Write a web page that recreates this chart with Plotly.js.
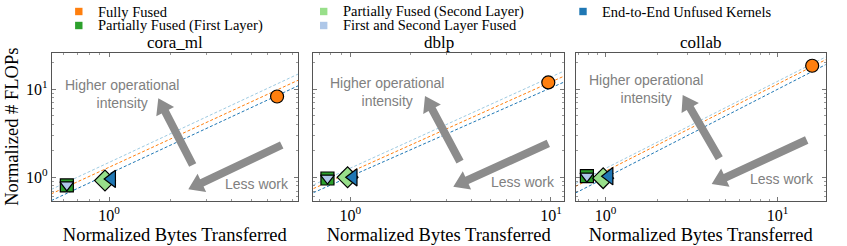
<!DOCTYPE html>
<html><head><meta charset="utf-8">
<script src="https://cdn.plot.ly/plotly-3.0.1.min.js"></script>
<style>html,body{margin:0;padding:0;background:#fff}#chart{width:847px;height:246px}</style>
</head><body><div id="chart"></div>
<script>
// ---------- data ----------
const datasets = ['cora_ml', 'dblp', 'collab'];
const seriesNames = ['Fully Fused', 'Partially Fused (First Layer)', 'Partially Fused (Second Layer)',
                     'First and Second Layer Fused', 'End-to-End Unfused Kernels'];
const fullyFusedX = [6.7, 9.7, 15.9];
const fullyFusedY = [8.25, 11.9, 18.4];
const partialFirstX = [0.62, 0.77, 0.78];
const partialFirstY = [0.81, 0.97, 1.03];
const partialSecondX = [0.955, 0.97, 0.97];
const partialSecondY = [0.92, 1.0, 0.98];
const bothFusedX = [0.62, 0.77, 0.78];
const bothFusedY = [0.82, 0.98, 1.03];
const unfusedX = [1.03, 1.035, 1.05];
const unfusedY = [0.96, 1.0, 1.03];
// reference (constant-intensity) lines: endpoints per dataset
const refLineXStart = [0.52, 0.655, 0.67];
const refLineXEnd = [8.5, 11.6, 19.1];
const lightLineYStart = [0.73, 0.82, 0.85];
const lightLineYEnd = [14.8, 16.0, 23.2];
const orangeLineYStart = [0.65, 0.745, 0.79];
const orangeLineYEnd = [12.6, 14.0, 21.6];
const blueLineYStart = [0.545, 0.67, 0.665];
const blueLineYEnd = [10.9, 12.0, 19.0];
const xTickVals = [1, 10];
const xTickText = ['10<sup>0</sup>', '10<sup>1</sup>'];
const yTickVals = [1, 10];
const yTickText = ['10<sup>0</sup>', '10<sup>1</sup>'];

// ---------- style ----------
const W = 847, H = 246;
const C = {orange: '#ff7f0e', green: '#2ca02c', lgreen: '#98df8a', lblue: '#aec7e8', blue: '#1f77b4'};
const seriesColors = [C.orange, C.green, C.lgreen, C.lblue, C.blue];
const serif = '"Liberation Serif", "Times New Roman", serif';
const sans = '"Liberation Sans", Arial, sans-serif';
const xDomainsPx = [[51.7, 298], [313.3, 564], [575.7, 825.7]];
const xRangesLog = [[-0.282, 0.929], [-0.184, 1.065], [-0.173, 1.28]];
const yRangeLog = [-0.268, 1.415];
const yDomain = [1 - 201 / H, 1 - 52.5 / H];
const px = x => x / W, py = y => 1 - y / H;

const minorVals = [0.5,0.6,0.7,0.8,0.9,2,3,4,5,6,7,8,9,20,30];
const traces = [];
const layout = {
  width: W, height: H, margin: {l: 0, r: 0, t: 0, b: 0},
  paper_bgcolor: '#fff', plot_bgcolor: '#fff', showlegend: false,
  font: {family: serif, color: '#000'},
  annotations: [], shapes: []
};

function axisCommon() {
  return {
    type: 'log', showgrid: false, zeroline: false,
    showline: true, linecolor: '#555', linewidth: 1, mirror: 'allticks',
    ticks: 'inside', ticklen: 4, tickwidth: 0.8, tickcolor: '#555',
    minor: {tickvals: minorVals, ticks: 'inside', ticklen: 2, tickwidth: 0.6, tickcolor: '#555'},
    tickfont: {family: serif, size: 16, color: '#000'}
  };
}

datasets.forEach((name, i) => {
  const xa = i === 0 ? 'x' : 'x' + (i + 1);
  const ya = i === 0 ? 'y' : 'y' + (i + 1);
  const xKey = i === 0 ? 'xaxis' : 'xaxis' + (i + 1);
  const yKey = i === 0 ? 'yaxis' : 'yaxis' + (i + 1);
  layout[xKey] = Object.assign(axisCommon(), {
    domain: [px(xDomainsPx[i][0]), px(xDomainsPx[i][1])], range: xRangesLog[i], anchor: ya,
    tickvals: xTickVals, ticktext: xTickText,
    title: {text: 'Normalized Bytes Transferred', font: {family: serif, size: 18.5, color: '#000'}, standoff: 4}
  });
  layout[yKey] = Object.assign(axisCommon(), {
    domain: yDomain, range: yRangeLog, anchor: xa,
    tickvals: yTickVals, ticktext: yTickText, showticklabels: i === 0, ticklabelstandoff: 0
  });
  if (i === 0) layout[yKey].title = {text: 'Normalized # FLOPs', font: {family: serif, size: 18.5, color: '#000'}, standoff: 2};

  // dashed reference lines
  [[lightLineYStart, lightLineYEnd, '#9ecae1'], [orangeLineYStart, orangeLineYEnd, C.orange],
   [blueLineYStart, blueLineYEnd, C.blue]].forEach(([y0, y1, col]) => {
    traces.push({x: [refLineXStart[i], refLineXEnd[i]], y: [y0[i], y1[i]], xaxis: xa, yaxis: ya,
      mode: 'lines', line: {color: col, width: 1, dash: '3px,2px'}, hoverinfo: 'skip'});
  });
  const mk = (xs, ys, sym, col, size, nm) => traces.push({
    x: [xs[i]], y: [ys[i]], xaxis: xa, yaxis: ya, mode: 'markers', name: nm,
    marker: {symbol: sym, color: col, size: size, line: {color: '#000', width: 1.2}}, cliponaxis: false
  });
  mk(partialFirstX, partialFirstY, 'square', C.green, 13, seriesNames[1]);
  mk(bothFusedX, bothFusedY, 'triangle-down', C.lblue, 12, seriesNames[3]);
  mk(partialSecondX, partialSecondY, 'diamond', C.lgreen, 16, seriesNames[2]);
  mk(unfusedX, unfusedY, 'triangle-left', C.blue, 15, seriesNames[4]);
  mk(fullyFusedX, fullyFusedY, 'circle', C.orange, 13, seriesNames[0]);

  // subplot title
  layout.annotations.push({text: name, xref: 'paper', yref: 'paper',
    x: px((xDomainsPx[i][0] + xDomainsPx[i][1]) / 2), y: py(42.5), xanchor: 'center', yanchor: 'middle',
    showarrow: false, font: {family: serif, size: 17, color: '#000'}});
});

// annotation text + arrows (pixel positions)
const hiTextPos = [[121.5, 94], [387, 92], [645.8, 89.5]];
const lessTextPos = [[256.7, 184], [523.3, 181.7], [781.7, 179]];
const arrowUp = [[192.7, 165, 158.3, 98.3], [460, 161.7, 425, 96], [719.3, 158.3, 682.7, 95]];
const arrowDown = [[281.7, 145, 188.3, 189.3], [548.3, 143.3, 453.3, 186.7], [806.7, 140, 711.7, 184]];
function arrowPath(tx, ty, hx, hy, sw, hw, hl) {
  const L = Math.hypot(hx - tx, hy - ty), dx = (hx - tx) / L, dy = (hy - ty) / L;
  const nx = -dy, ny = dx, bx = hx - dx * hl, by = hy - dy * hl;
  const pts = [[tx + nx * sw / 2, ty + ny * sw / 2], [bx + nx * sw / 2, by + ny * sw / 2],
    [bx + nx * hw / 2, by + ny * hw / 2], [hx, hy], [bx - nx * hw / 2, by - ny * hw / 2],
    [bx - nx * sw / 2, by - ny * sw / 2], [tx - nx * sw / 2, ty - ny * sw / 2]];
  return 'M' + pts.map(p => px(p[0]).toFixed(5) + ',' + py(p[1]).toFixed(5)).join(' L') + ' Z';
}
for (let i = 0; i < 3; i++) {
  layout.annotations.push({text: 'Higher operational<br>intensity', xref: 'paper', yref: 'paper',
    x: px(hiTextPos[i][0]), y: py(hiTextPos[i][1]), xanchor: 'center', yanchor: 'middle', align: 'center',
    showarrow: false, font: {family: sans, size: 14, color: '#808080'}});
  layout.annotations.push({text: 'Less work', xref: 'paper', yref: 'paper',
    x: px(lessTextPos[i][0]), y: py(lessTextPos[i][1]), xanchor: 'center', yanchor: 'middle',
    showarrow: false, font: {family: sans, size: 14, color: '#808080'}});
  [arrowUp[i], arrowDown[i]].forEach(a => layout.shapes.push({type: 'path', xref: 'paper', yref: 'paper',
    path: arrowPath(a[0], a[1], a[2], a[3], 8, 20, 15), fillcolor: '#8c8c8c', line: {width: 0}, layer: 'above'}));
}

// legend (column-major, 3 columns)
const legendOrder = [0, 1, 2, 3, 4];
const legendPos = [[78.8, 11.5], [78.8, 25.5], [323.7, 11.5], [323.7, 25.5], [583, 11.5]];
legendOrder.forEach((s, k) => {
  const [lx, ly] = legendPos[k];
  layout.shapes.push({type: 'rect', xref: 'paper', yref: 'paper',
    x0: px(lx - 3.7), x1: px(lx + 3.7), y0: py(ly + 3.7), y1: py(ly - 3.7),
    fillcolor: seriesColors[s], line: {width: 0}});
  layout.annotations.push({text: seriesNames[s], xref: 'paper', yref: 'paper',
    x: px(lx + 17.2), y: py(ly), xanchor: 'left', yanchor: 'middle', showarrow: false,
    font: {family: serif, size: 14.5, color: '#000'}});
});

Plotly.newPlot('chart', traces, layout, {staticPlot: true, displayModeBar: false});
</script></body></html>
